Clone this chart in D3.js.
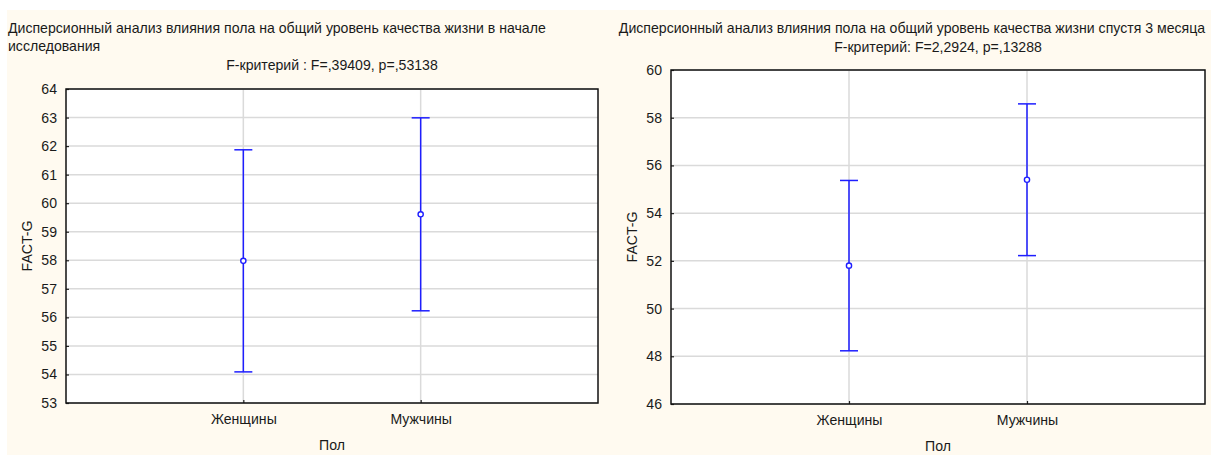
<!DOCTYPE html>
<html>
<head>
<meta charset="utf-8">
<script src="https://cdn.jsdelivr.net/npm/d3@7"></script>
<style>
  html, body { margin: 0; padding: 0; background: #ffffff; }
  svg text { font-family: "Liberation Sans", Arial, sans-serif; fill: #1a1a1a; }
</style>
</head>
<body>
<svg id="chart" width="1211" height="455"></svg>
<script>
// Group labels (x axis)
const groups = ["Женщины", "Мужчины"];

// Baseline: means with 95% confidence limits
const baselineMean  = [57.98, 59.61];
const baselineLower = [54.09, 56.23];
const baselineUpper = [61.87, 62.99];

// After 3 months
const followMean  = [51.80, 55.40];
const followLower = [48.23, 52.22];
const followUpper = [55.37, 58.58];

const yTicksLeft  = d3.range(53, 65, 1);
const yTicksRight = d3.range(46, 61, 2);

const FS = "14.1px";
const svg = d3.select("#chart");

// Cream page background
svg.append("rect")
  .attr("x", 7).attr("y", 10)
  .attr("width", 1204).attr("height", 445)
  .attr("fill", "#fffaf0");

function panel(cfg) {
  const g = svg.append("g");
  const x = d3.scalePoint().domain(groups).range([cfg.left, cfg.right]).padding(1);
  const y = d3.scaleLinear().domain(cfg.domain).range([cfg.bottom, cfg.top]);

  // plot area
  g.append("rect")
    .attr("x", cfg.left).attr("y", cfg.top)
    .attr("width", cfg.right - cfg.left).attr("height", cfg.bottom - cfg.top)
    .attr("fill", "#ffffff");

  // grid lines
  g.append("g").selectAll("line.h").data(cfg.ticks).join("line")
    .attr("x1", cfg.left).attr("x2", cfg.right)
    .attr("y1", d => y(d)).attr("y2", d => y(d))
    .attr("stroke", "#dadada").attr("stroke-width", 1.5);
  g.append("g").selectAll("line.v").data(groups).join("line")
    .attr("x1", d => x(d)).attr("x2", d => x(d))
    .attr("y1", cfg.top).attr("y2", cfg.bottom)
    .attr("stroke", "#dadada").attr("stroke-width", 1.5);

  // axes with inward ticks
  const yAxis = d3.axisLeft(y).tickValues(cfg.ticks).tickSize(-3).tickPadding(9);
  const ya = g.append("g").attr("transform", `translate(${cfg.left},0)`).call(yAxis);
  const xAxis = d3.axisBottom(x).tickSize(-3).tickPadding(11);
  const xa = g.append("g").attr("transform", `translate(0,${cfg.bottom})`).call(xAxis);
  [ya, xa].forEach(a => {
    a.select(".domain").remove();
    a.selectAll(".tick line").attr("stroke", "#222").attr("stroke-width", 1.2);
    a.selectAll(".tick text")
      .style("font-family", "Liberation Sans, Arial, sans-serif")
      .style("font-size", FS).attr("fill", "#1a1a1a");
  });

  // frame
  g.append("rect")
    .attr("x", cfg.left).attr("y", cfg.top)
    .attr("width", cfg.right - cfg.left).attr("height", cfg.bottom - cfg.top)
    .attr("fill", "none").attr("stroke", "#111").attr("stroke-width", 1.5);

  // error bars
  const idx = d3.range(groups.length);
  const eb = g.append("g");
  eb.selectAll("line.stem").data(idx).join("line")
    .attr("x1", i => x(groups[i])).attr("x2", i => x(groups[i]))
    .attr("y1", i => y(cfg.lower[i])).attr("y2", i => y(cfg.upper[i]))
    .attr("stroke", "#1e1eff").attr("stroke-width", 1.5);
  ["lower", "upper"].forEach(k => {
    eb.selectAll("line.cap-" + k).data(idx).join("line")
      .attr("x1", i => x(groups[i]) - 9).attr("x2", i => x(groups[i]) + 9)
      .attr("y1", i => y(cfg[k][i])).attr("y2", i => y(cfg[k][i]))
      .attr("stroke", "#1e1eff").attr("stroke-width", 1.5);
  });
  eb.selectAll("circle").data(idx).join("circle")
    .attr("cx", i => x(groups[i])).attr("cy", i => y(cfg.mean[i]))
    .attr("r", 2.6)
    .attr("fill", "#ffffff").attr("stroke", "#1e1eff").attr("stroke-width", 1.4);

  // titles
  cfg.titleLines.forEach((t, i) => {
    g.append("text")
      .attr("x", cfg.titleX).attr("y", cfg.titleY + i * 18)
      .attr("text-anchor", cfg.titleAnchor)
      .style("font-size", FS).text(t);
  });
  g.append("text")
    .attr("x", (cfg.left + cfg.right) / 2).attr("y", cfg.subY)
    .attr("text-anchor", "middle")
    .style("font-size", FS).text(cfg.subtitle);

  // axis titles
  g.append("text")
    .attr("transform", `translate(${cfg.left - 34},${(cfg.top + cfg.bottom) / 2}) rotate(-90)`)
    .attr("text-anchor", "middle")
    .style("font-size", FS).text("FACT-G");
  g.append("text")
    .attr("x", (cfg.left + cfg.right) / 2).attr("y", cfg.bottom + 47)
    .attr("text-anchor", "middle")
    .style("font-size", FS).text("Пол");
}

panel({
  left: 66, right: 598, top: 89, bottom: 403,
  domain: [53, 64], ticks: yTicksLeft,
  mean: baselineMean, lower: baselineLower, upper: baselineUpper,
  titleLines: ["Дисперсионный анализ влияния пола на общий уровень качества жизни в начале",
               "исследования"],
  titleX: 8, titleY: 33, titleAnchor: "start",
  subtitle: "F-критерий : F=,39409, p=,53138", subY: 70
});

panel({
  left: 671, right: 1205, top: 70, bottom: 404,
  domain: [46, 60], ticks: yTicksRight,
  mean: followMean, lower: followLower, upper: followUpper,
  titleLines: ["Дисперсионный анализ влияния пола на общий уровень качества жизни спустя 3 месяца"],
  titleX: 912, titleY: 33, titleAnchor: "middle",
  subtitle: "F-критерий: F=2,2924, p=,13288", subY: 52
});
</script>
</body>
</html>
